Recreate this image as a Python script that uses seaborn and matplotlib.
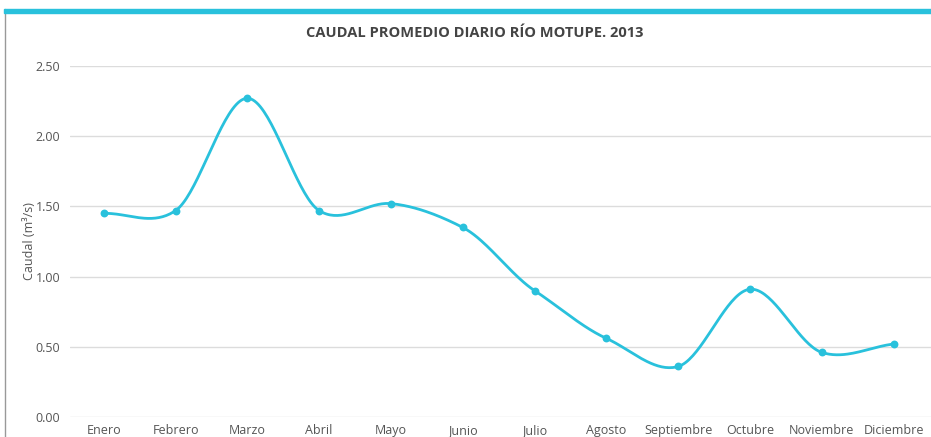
import numpy as np
import pandas as pd
import seaborn as sns
import matplotlib.pyplot as plt
from matplotlib.patches import Rectangle
from matplotlib.lines import Line2D

meses = ['Enero', 'Febrero', 'Marzo', 'Abril', 'Mayo', 'Junio', 'Julio',
         'Agosto', 'Septiembre', 'Octubre', 'Noviembre', 'Diciembre']
caudal = [1.45, 1.47, 2.27, 1.47, 1.52, 1.35, 0.90, 0.56, 0.36, 0.91, 0.46, 0.52]
y_ticks = [0.0, 0.5, 1.0, 1.5, 2.0, 2.5]

CYAN = '#29c1dc'
GREY = '#555555'


def cardinal(x, y, n=40, scale=0.85):
    # hermite curve through the points, tangents from the neighbours
    x = np.asarray(x, float)
    y = np.asarray(y, float)
    k = len(x)
    m = np.zeros(k)
    m[1:-1] = (y[2:] - y[:-2]) / (x[2:] - x[:-2]) * scale
    m[0] = (y[1] - y[0]) / (x[1] - x[0])
    m[-1] = (y[-1] - y[-2]) / (x[-1] - x[-2])
    t = np.linspace(0, 1, n)
    h00 = 2 * t ** 3 - 3 * t ** 2 + 1
    h10 = t ** 3 - 2 * t ** 2 + t
    h01 = -2 * t ** 3 + 3 * t ** 2
    h11 = t ** 3 - t ** 2
    xs, ys = [], []
    for i in range(k - 1):
        h = x[i + 1] - x[i]
        xs.extend(x[i] + t * h)
        ys.extend(h00 * y[i] + h10 * h * m[i] + h01 * y[i + 1] + h11 * h * m[i + 1])
    return np.array(xs), np.array(ys)


df = pd.DataFrame({'pos': np.arange(len(meses)), 'caudal': caudal})
xs, ys = cardinal(df.pos, df.caudal)
smooth = pd.DataFrame({'pos': xs, 'caudal': ys})

sns.set_style('white')
plt.rcParams['font.family'] = ['Open Sans', 'DejaVu Sans']

fig = plt.figure(figsize=(9.31, 4.37), dpi=100)
ax = fig.add_axes([70 / 931, 20 / 437, 861 / 931, 351 / 437])

sns.lineplot(data=smooth, x='pos', y='caudal', color=CYAN, linewidth=2.0,
             sort=False, estimator=None, ax=ax)
sns.scatterplot(data=df, x='pos', y='caudal', color=CYAN, s=32, edgecolor=CYAN,
                linewidth=0, ax=ax, zorder=5)

ax.set_xlim(-0.47, 11.52)
ax.set_ylim(0, 2.5)
ax.set_yticks(y_ticks)
ax.set_yticklabels(['{:.2f}'.format(v) for v in y_ticks], color=GREY, fontsize=9)
ax.set_xticks(df.pos)
ax.set_xticklabels(meses, color=GREY, fontsize=9)
ax.tick_params(axis='y', length=0, pad=7)
ax.tick_params(axis='x', length=0, pad=5)
ax.yaxis.grid(True, color='#dcdcdc', linewidth=1)
ax.set_axisbelow(True)
for s in ax.spines.values():
    s.set_visible(False)
ax.set_xlabel('')
ax.set_ylabel('Caudal (m³/s)', color=GREY, fontsize=9)
ax.yaxis.set_label_coords(-0.04, 0.5)

fig.text(475 / 931, 1 - 33 / 437, 'CAUDAL PROMEDIO DIARIO RÍO MOTUPE. 2013',
         ha='center', va='center', fontsize=10.5, fontweight='bold', color='#444444')

# top cyan band and left frame line
fig.patches.append(Rectangle((4 / 931, 1 - 13 / 437), 927 / 931, 4 / 437,
                             transform=fig.transFigure, color=CYAN, zorder=10))
fig.lines.append(Line2D([4.5 / 931, 4.5 / 931], [0, 1 - 9 / 437],
                        transform=fig.transFigure, color='#999999', linewidth=1))

fig.savefig('out.png', dpi=100)
